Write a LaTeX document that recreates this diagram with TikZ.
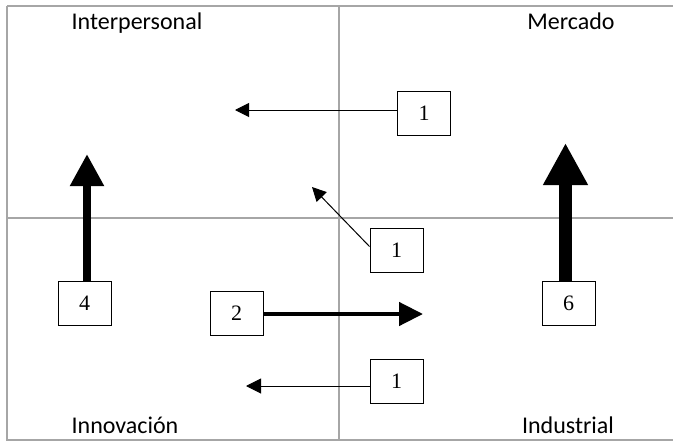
\documentclass[tikz,border=0pt]{standalone}
\usepackage{fontspec}
\setmainfont{Liberation Serif}
\newfontfamily\labelfont{Carlito}
\newfontfamily\digitfont{Liberation Serif}
\usetikzlibrary{arrows.meta, positioning}
\definecolor{gridgray}{HTML}{A6A6A6}
\tikzset{
    numbox/.style={rectangle, draw, line width=1pt, fill=white, minimum width=53pt, minimum height=44pt, inner sep=0pt, font=\digitfont\fontsize{22pt}{26pt}\selectfont},
    quadlabel/.style={anchor=base, font=\labelfont\fontsize{24pt}{28pt}\selectfont},
    divider/.style={draw=gridgray, line width=1.6pt},
    thinarrow/.style={line width=1pt, -{Triangle[length=14pt, width=14pt]}},
    thickarrow/.style={line width=8pt, -{Triangle[length=32pt, width=32pt]}}
}
\begin{document}
\begin{tikzpicture}[x=1pt, y=-1pt]
    \useasboundingbox (0,0) rectangle (673,442);
    % quadrants
    \draw[divider] (7,6) -- (680,6) (7,6) -- (7,440) -- (680,440);
    \draw[divider] (339,6) -- (339,440);
    \draw[divider] (7,218) -- (680,218);
    \node[quadlabel] (interp) at (137,29) {Interpersonal};
    \node[quadlabel] (merc) at (571,29) {Mercado};
    \node[quadlabel] (innov) at (125,433) {Innovación};
    \node[quadlabel] (indus) at (568,433) {Industrial};
    % boxes
    \node[numbox] (mtoi) at (424,113) {1};
    \node[numbox] (ndtoi) at (396.5,250.5) {1};
    \node[numbox] (ntoi) at (84.5,303) {4};
    \node[numbox] (dtom) at (568.5,303) {6};
    \node[numbox] (ntod) at (236.5,313.5) {2};
    \node[numbox] (dton) at (396.5,381.5) {1};
    \coordinate (mtoiend) at (235,110);
    \coordinate (ndtoiend) at (312,187);
    \coordinate (ntoiend) at (87,154);
    \coordinate (dtomend) at (565.5,143);
    \coordinate (ntodend) at (423,314);
    \coordinate (dtonend) at (246,386);
    % flows
    \draw[thinarrow] (mtoi.west |- mtoiend) -- (mtoiend);
    \draw[thinarrow] (ndtoi.west) ++(0,-4) -- (ndtoiend);
    \draw[thickarrow] (ntoiend |- ntoi.north) -- (ntoiend);
    \draw[thickarrow, line width=13pt, -{Triangle[length=42pt, width=42pt]}] (dtomend |- dtom.north) -- (dtomend);
    \draw[thickarrow, line width=4.5pt, -{Triangle[length=24pt, width=23pt]}] (ntod.east |- ntodend) -- (ntodend);
    \draw[thinarrow, -{Triangle[length=15pt, width=15pt]}] (dton.west |- dtonend) -- (dtonend);
\end{tikzpicture}
\end{document}
